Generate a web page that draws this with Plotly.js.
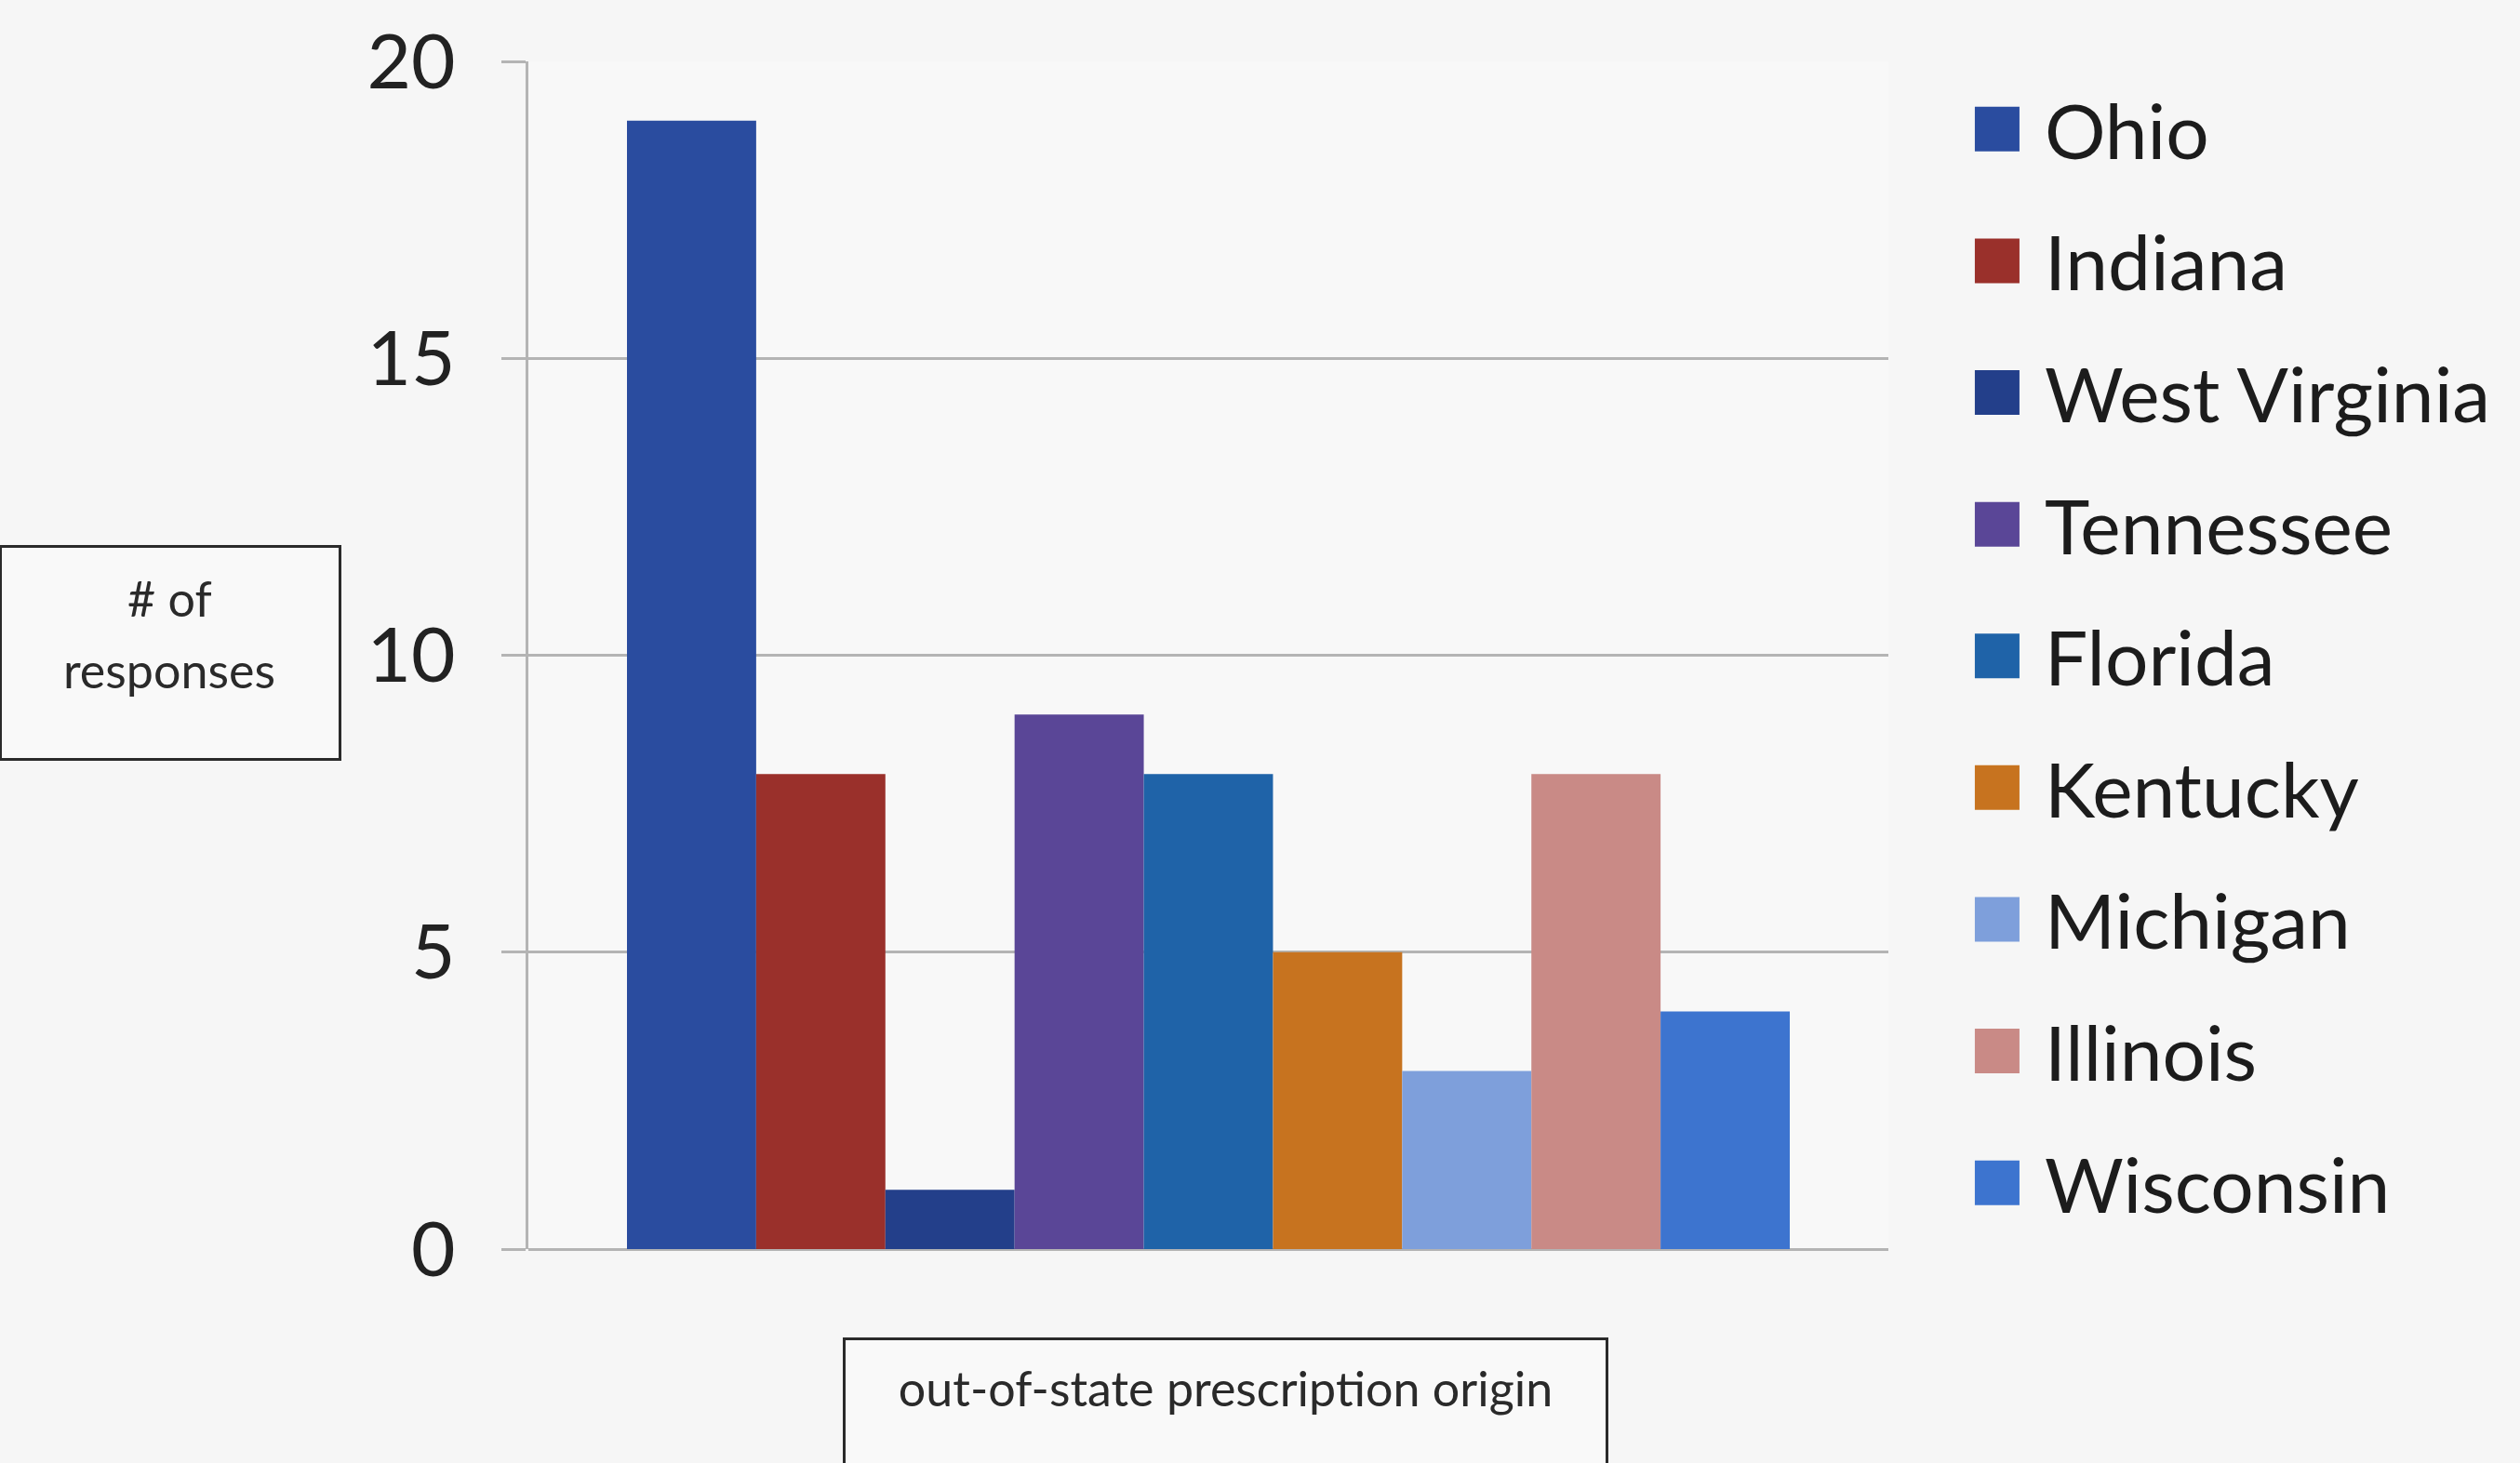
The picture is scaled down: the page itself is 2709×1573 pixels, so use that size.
<!DOCTYPE html>
<html>
<head>
<meta charset="utf-8">
<script src="https://cdn.plot.ly/plotly-3.0.1.min.js"></script>
<style>
  html, body { margin: 0; padding: 0; background: #f6f6f6; }
  #chart { width: 2709px; height: 1573px; }
</style>
</head>
<body>
<div id="chart"></div>
<script>
// ---- data ----
const categories = ['Ohio', 'Indiana', 'West Virginia', 'Tennessee', 'Florida', 'Kentucky', 'Michigan', 'Illinois', 'Wisconsin'];
const responses = [19, 8, 1, 9, 8, 5, 3, 8, 4];
const colors = ['#2a4c9f', '#9a302b', '#233f8a', '#5a4697', '#1f63a8', '#c7731f', '#7e9fdb', '#c98a86', '#3d74cf'];
const xGroup = ['out-of-state prescription origin'];
const yTicks = [0, 5, 10, 15, 20];
const yTitleLines = ['# of', 'responses'];
const xTitle = 'out-of-state prescription origin';

const FONT = 'Lato, "Open Sans", sans-serif';

const traces = categories.map((name, i) => ({
  type: 'bar',
  name: name,
  legendgroup: 'g' + i,
  x: xGroup,
  y: [responses[i]],
  marker: { color: colors[i], line: { width: 0 } },
  hoverinfo: 'skip'
}));

// paper-coordinate helpers (plot area: x 568..2030, y 66..1343 in pixels)
const px2x = X => (X - 568) / 1462;
const px2y = Y => (1343 - Y) / 1277;

const layout = {
  width: 2709,
  height: 1573,
  paper_bgcolor: '#f6f6f6',
  plot_bgcolor: '#f8f8f8',
  margin: { l: 568, r: 679, t: 66, b: 230, autoexpand: false },
  barmode: 'group',
  bargap: 0.145,
  bargroupgap: 0,
  showlegend: true,
  legend: {
    x: 1.0451, xanchor: 'left',
    y: 0.9898, yanchor: 'top',
    itemwidth: 92,
    tracegroupgap: 32,
    traceorder: 'grouped',
    bgcolor: 'rgba(0,0,0,0)',
    font: { family: FONT, size: 82, color: '#1c1c1c' }
  },
  xaxis: {
    showticklabels: false,
    showgrid: false,
    zeroline: false,
    showline: false,
    ticks: ''
  },
  yaxis: {
    range: [0, 20],
    tickvals: yTicks,
    ticktext: yTicks.map(String),
    ticks: 'outside',
    ticklen: 26,
    tickwidth: 3,
    tickcolor: '#b4b4b4',
    ticklabelstandoff: 33,
    tickfont: { family: FONT, size: 82, color: '#222222' },
    showgrid: true,
    gridcolor: '#b4b4b4',
    gridwidth: 3,
    zeroline: true,
    zerolinecolor: '#b4b4b4',
    zerolinewidth: 3,
    showline: true,
    linecolor: '#b4b4b4',
    linewidth: 3
  },
  annotations: [
    // y-axis title box
    {
      xref: 'paper', yref: 'paper',
      x: px2x(183), y: px2y(702),
      xanchor: 'center', yanchor: 'middle',
      text: ' ',
      showarrow: false,
      width: 362, height: 226,
      borderpad: 0,
      bordercolor: '#2a2a2a', borderwidth: 3,
      bgcolor: '#f9f9f9',
      font: { family: FONT, size: 52, color: '#2a2a2a' }
    },
    {
      xref: 'paper', yref: 'paper',
      x: px2x(182), y: px2y(643),
      xanchor: 'center', yanchor: 'middle',
      text: yTitleLines[0],
      showarrow: false,
      font: { family: FONT, size: 52, color: '#2a2a2a' }
    },
    {
      xref: 'paper', yref: 'paper',
      x: px2x(182), y: px2y(720),
      xanchor: 'center', yanchor: 'middle',
      text: yTitleLines[1],
      showarrow: false,
      font: { family: FONT, size: 52, color: '#2a2a2a' }
    },
    // x-axis title box
    {
      xref: 'paper', yref: 'paper',
      x: px2x(1317), y: px2y(1438),
      xanchor: 'center', yanchor: 'top',
      text: xTitle,
      showarrow: false,
      width: 777, height: 150,
      valign: 'top',
      borderpad: 20,
      bordercolor: '#2a2a2a', borderwidth: 3,
      bgcolor: '#f9f9f9',
      font: { family: FONT, size: 52, color: '#2a2a2a' }
    }
  ]
};

Plotly.newPlot('chart', traces, layout, { displayModeBar: false, staticPlot: true }).then(gd => {
  // enlarge legend swatches to match the reference squares
  gd.querySelectorAll('.legendpoints path').forEach(p => {
    p.setAttribute('d', 'M24,24H-24V-24H24Z');
  });
});
</script>
</body>
</html>
